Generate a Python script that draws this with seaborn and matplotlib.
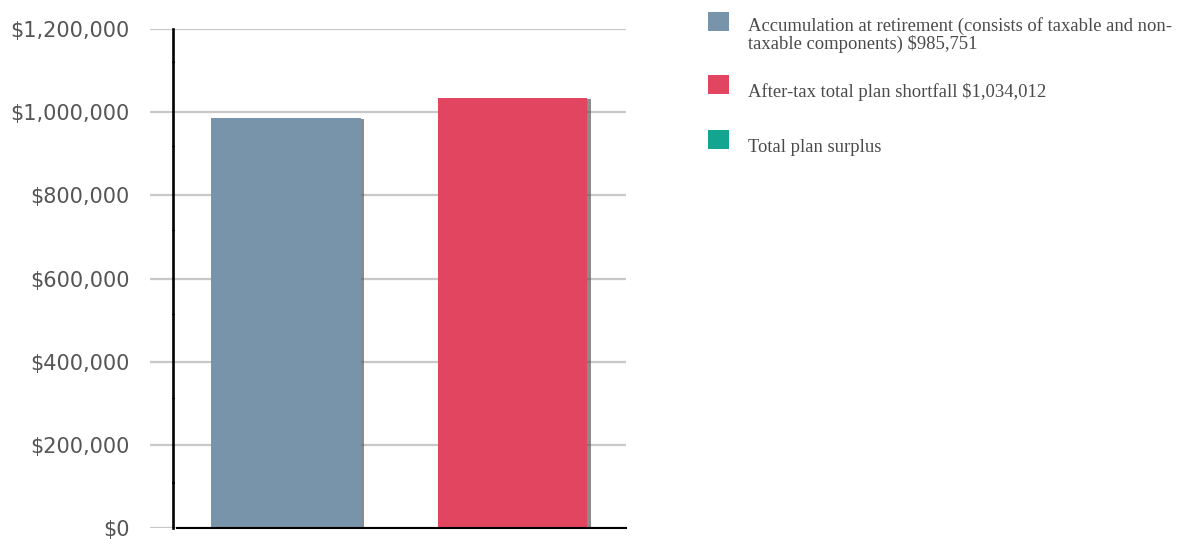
import matplotlib
matplotlib.use("Agg")
import matplotlib.pyplot as plt
import matplotlib.patheffects as pe
from matplotlib.patches import Rectangle
from matplotlib.ticker import FuncFormatter
import pandas as pd
import seaborn as sns

# Plan figures
categories = ["Accumulation at retirement", "After-tax total plan shortfall"]
values = [985751, 1034012]
bar_colors = ["#7894AA", "#E14560"]

legend_labels = [
    "Accumulation at retirement (consists of taxable and non-\ntaxable components) ${:,}".format(values[0]),
    "After-tax total plan shortfall ${:,}".format(values[1]),
    "Total plan surplus",
]
legend_colors = ["#7894AA", "#E14560", "#14A591"]
y_ticks = [0, 200000, 400000, 600000, 800000, 1000000, 1200000]

sns.set_theme(style="white")
plt.rcParams["lines.scale_dashes"] = False

W, H = 1180, 539
fig = plt.figure(figsize=(W / 100, H / 100), dpi=100)
ax = fig.add_axes([150 / W, 11 / H, (626 - 150) / W, (510 - 11) / H])

df = pd.DataFrame({"category": categories, "value": values})
sns.barplot(data=df, x="category", y="value", hue="category",
            palette=dict(zip(categories, bar_colors)), order=categories,
            width=0.66, saturation=1, legend=False, ax=ax)

shadow = [pe.SimplePatchShadow(offset=(2.5, -1), shadow_rgbFace="#5a5a5a", alpha=0.7),
          pe.Normal()]
for patch in ax.patches:
    patch.set_linewidth(0)
    patch.set_path_effects(shadow)

ax.set_xlim(-0.6, 1.5)
ax.set_ylim(0, 1200000)
ax.set_yticks(y_ticks)
ax.yaxis.set_major_formatter(FuncFormatter(lambda v, _: "${:,.0f}".format(v)))
ax.set_xticks([])
ax.set_xlabel("")
ax.set_ylabel("")

ax.yaxis.grid(True, color="#c8c8c8", linewidth=1.6)
ax.xaxis.grid(False)
ax.set_axisbelow(True)

for side in ("top", "right"):
    ax.spines[side].set_visible(False)
ax.spines["left"].set_position(("data", -0.5))
ax.spines["left"].set_color("black")
ax.spines["left"].set_linewidth(1.9)
ax.spines["left"].set_linestyle((27, (59, 1.6)))
ax.spines["left"].set_zorder(5)
ax.spines["bottom"].set_color("black")
ax.spines["bottom"].set_linewidth(1.5)
ax.spines["bottom"].set_bounds(-0.48, 1.5)

ax.tick_params(axis="y", length=0, pad=31, labelsize=15, labelcolor="#555555")
for lbl in ax.get_yticklabels():
    lbl.set_y(lbl.get_position()[1])

# Legend drawn beside the plot
sq_tops = [12, 75, 130]
last_baselines = [49, 97, 152]
for lab, col, top, base in zip(legend_labels, legend_colors, sq_tops, last_baselines):
    fig.add_artist(Rectangle((708 / W, 1 - (top + 19) / H), 21 / W, 19 / H,
                             transform=fig.transFigure, facecolor=col,
                             edgecolor="none"))
    fig.text(748 / W, 1 - base / H, lab, ha="left", va="baseline",
             fontsize=13.4, family="Liberation Serif", color="#4a4a4a",
             linespacing=0.98)

fig.savefig("out.png", dpi=100)
